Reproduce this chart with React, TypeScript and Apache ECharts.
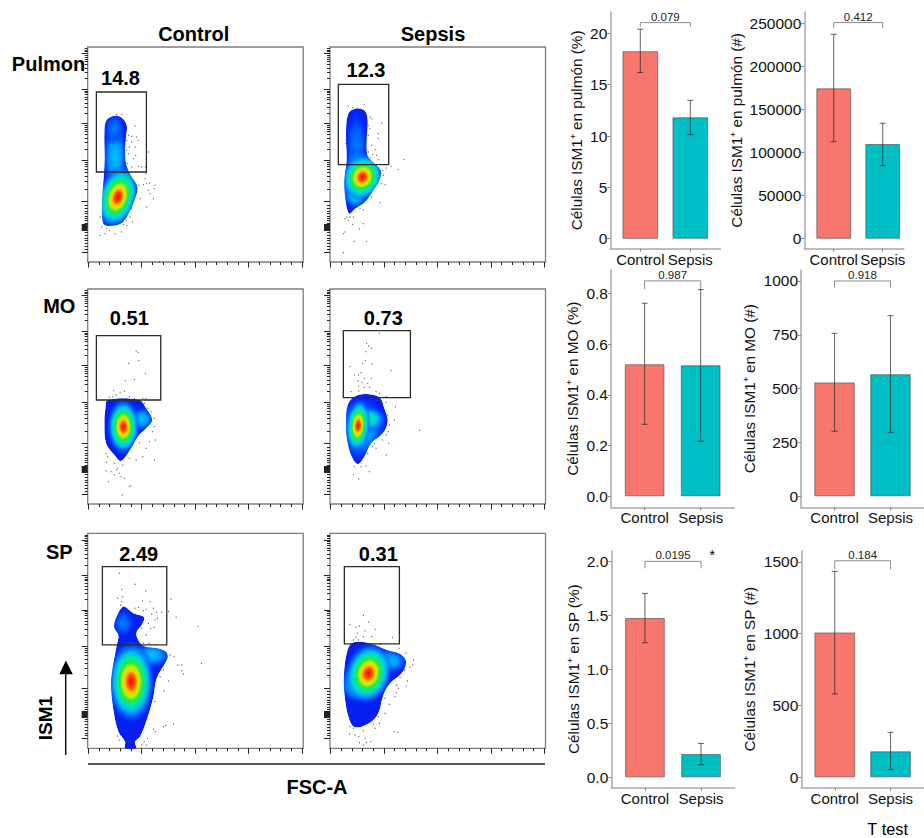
import React, { useEffect, useRef } from "react";
import * as echarts from "echarts";

const FONT = "Liberation Sans";

// ---------- Flow cytometry panels: values on an arbitrary linear channel scale ----------
const fscMajorTicks = [0, 160, 320, 480, 640];
const fscMinorTicks = [32, 64, 96, 128, 192, 224, 256, 288, 352, 384, 416, 448, 512, 544, 576, 608];
const ismMajorTicks = [625, 518, 415, 306, 181, 112, 109, 106, 103, 100, 97, 94, 30];
const ismMinorTicks = [
  640, 636, 631, 620, 614, 609, 601, 593, 582, 569, 550, 513, 508, 503, 495, 487, 477, 464, 446,
  410, 404, 399, 391, 382, 371, 358, 339, 300, 293, 287, 278, 268, 256, 241, 218,
  171, 162, 153, 145, 138, 131, 124, 117, 88, 80, 72, 64, 55, 46, 38,
];

const outlinePulmonControl = [[75,438],[100,433],[115,410],[113,375],[110,335],[113,295],[127,260],[147,225],[140,190],[120,145],[100,117],[65,108],[45,115],[41,165],[45,245],[49,305],[48,385],[53,423]];
const outlinePulmonSepsis = [[78,461],[103,453],[111,425],[108,365],[110,320],[123,303],[150,275],[148,250],[128,215],[103,180],[73,160],[56,145],[46,175],[41,245],[48,305],[46,385],[53,445]];
const outlineMoControl = [[58,312],[153,312],[173,287],[191,252],[173,227],[148,202],[128,167],[98,129],[78,147],[53,182],[48,242],[51,287]];
const outlineMoSepsis = [[71,322],[106,330],[146,320],[161,287],[171,247],[156,212],[121,182],[101,142],[81,120],[61,147],[48,202],[46,247],[51,297]];
const outlineSpControl = [[105,425],[135,405],[167,393],[160,370],[145,350],[147,330],[165,307],[205,300],[232,290],[238,275],[230,255],[205,210],[195,155],[175,85],[155,35],[140,20],[143,0],[110,0],[110,20],[90,50],[75,115],[68,195],[75,255],[85,310],[90,340],[77,365],[87,400]];
const outlineSpSepsis = [[63,315],[98,319],[133,310],[168,295],[208,283],[226,260],[213,225],[178,195],[158,160],[143,105],[118,77],[73,63],[53,95],[41,165],[40,225],[48,285]];

// density peaks: x, y, radiusX, radiusY, tilt in degrees, palette
const peaksPulmonControl = [[80,315,42,110,0,"sky"],[78,400,34,50,0,"blue"],[88,195,62,100,18,"hot"]];
const peaksPulmonSepsis = [[78,345,38,115,0,"blue"],[80,290,42,55,0,"sky"],[75,215,42,60,0,"warm"],[95,255,65,75,25,"hot"]];
const peaksMoControl = [[160,255,42,38,0,"sky"],[105,232,50,85,0,"hot"]];
const peaksMoSepsis = [[90,225,80,100,0,"sky"],[108,255,62,40,0,"warm"],[82,235,38,82,5,"hot"]];
const peaksSpControl = [[105,375,34,44,0,"blue"],[190,280,62,40,0,"sky"],[128,200,72,125,0,"hot"]];
const peaksSpSepsis = [[175,262,62,40,0,"sky"],[75,195,46,58,0,"warm"],[113,225,72,95,15,"hot"]];

const dotsPulmonControl = [[140,408],[120,380],[130,377],[145,375],[115,365],[130,360],[150,365],[123,345],[140,345],[115,335],[180,330],[120,325],[142,320],[135,310],[117,295],[130,285],[150,287],[160,285],[172,285],[172,265],[152,230],[165,232],[175,235],[183,237],[200,230],[197,220],[170,250],[180,215],[185,205],[195,190],[155,190],[175,165],[130,160],[125,135],[115,125],[133,120],[115,110],[105,113],[85,443],[100,443],[35,135],[40,105],[55,100],[35,80],[50,85],[80,85],[100,90],[63,95],[213,0]];
const dotsPulmonSepsis = [[53,467],[66,463],[101,473],[118,435],[123,430],[153,417],[113,410],[118,400],[143,385],[113,380],[143,370],[123,350],[133,337],[46,355],[113,330],[126,323],[138,320],[118,313],[143,307],[220,308],[181,287],[166,282],[202,278],[156,275],[158,260],[153,235],[163,232],[123,195],[148,178],[98,157],[88,160],[78,165],[68,135],[58,135],[43,130],[53,125],[98,115],[86,99],[66,113],[43,90],[38,85],[71,62],[108,62],[38,28],[48,135]];
const dotsMoControl = [[143,459],[150,455],[151,430],[121,422],[171,392],[111,370],[138,374],[76,340],[108,339],[95,334],[83,327],[73,322],[63,320],[123,322],[138,317],[163,317],[173,317],[168,302],[178,287],[188,277],[198,257],[198,232],[193,217],[201,192],[183,187],[153,184],[173,167],[163,142],[198,132],[143,132],[123,137],[53,152],[58,142],[78,122],[103,117],[88,107],[68,97],[53,99],[93,92],[78,87],[98,82],[108,77],[61,67],[123,52],[128,55],[101,27],[55,125],[85,102]];
const dotsMoSepsis = [[146,512],[108,482],[114,474],[123,467],[106,457],[104,430],[96,422],[124,420],[58,412],[181,400],[91,394],[84,387],[71,387],[101,377],[121,377],[82,369],[111,362],[94,364],[84,354],[101,350],[116,350],[84,339],[61,337],[136,337],[146,332],[166,322],[171,320],[166,305],[194,292],[171,267],[191,252],[176,237],[173,217],[166,207],[174,182],[156,192],[136,167],[126,172],[166,147],[111,152],[71,112],[91,112],[106,114],[116,97],[68,89],[84,75],[266,221],[131,182]];
const dotsSpControl = [[93,525],[140,492],[100,477],[172,472],[88,450],[103,455],[248,448],[100,440],[162,442],[185,440],[97,430],[140,420],[150,423],[173,417],[195,420],[240,410],[165,413],[205,408],[220,408],[190,403],[235,397],[263,393],[207,390],[200,385],[165,385],[180,375],[197,363],[160,360],[187,360],[329,365],[173,340],[182,315],[165,315],[245,280],[257,275],[268,250],[280,250],[339,255],[280,233],[285,223],[240,202],[225,235],[215,215],[227,172],[200,140],[255,73],[232,68],[225,65],[195,57],[200,50],[177,30],[167,20],[175,10],[160,10],[87,37],[92,25]];
const dotsSpSepsis = [[98,399],[114,379],[58,371],[86,367],[76,363],[133,357],[103,352],[80,345],[76,333],[98,335],[123,335],[185,333],[68,325],[83,325],[133,313],[148,313],[205,300],[226,285],[248,265],[246,250],[238,243],[221,235],[208,213],[230,202],[198,190],[226,187],[203,180],[196,167],[193,155],[163,150],[176,132],[163,105],[143,95],[146,75],[133,60],[58,65],[68,60],[56,42],[73,40],[83,35],[98,53],[103,30],[86,17],[98,10],[120,20],[108,17],[190,50],[201,48],[128,73]];

// gate: x0, y0, x1, y1
const gatePulmonControl = [24, 270, 174, 510];
const gatePulmonSepsis = [23, 292, 174, 533];
const gateMoControl = [24, 312, 217, 505];
const gateMoSepsis = [38, 319, 239, 520];
const gateSpControl = [42, 310, 235, 545];
const gateSpSepsis = [41, 313, 206, 545];

// ---------- Bar panels ----------
const groups = ["Control", "Sepsis"];
const yTitles = [
  "Células ISM1⁺ en pulmón (%)", "Células ISM1⁺ en pulmón (#)",
  "Células ISM1⁺ en MO (%)", "Células ISM1⁺ en MO (#)",
  "Células ISM1⁺ en SP (%)", "Células ISM1⁺ en SP (#)",
];
const yTickLabels = [
  ["0", "5", "10", "15", "20"], ["0", "50000", "100000", "150000", "200000", "250000"],
  ["0.0", "0.2", "0.4", "0.6", "0.8"], ["0", "250", "500", "750", "1000"],
  ["0.0", "0.5", "1.0", "1.5", "2.0"], ["0", "500", "1000", "1500"],
];
const means = [[18.25, 11.82], [174500, 109900], [0.521, 0.517], [529, 567], [1.478, 0.216], [1008, 181]];
const errLow = [[16.17, 10.13], [112600, 84750], [0.284, 0.217], [302, 297], [1.249, 0.117], [580, 53]];
const errHigh = [[20.4, 13.47], [237200, 133900], [0.762, 0.816], [757, 839], [1.706, 0.315], [1433, 313]];
const pValues = ["0.079", "0.412", "0.987", "0.918", "0.0195", "0.184"];
const bracketTop = [21.04, 250800, 0.85, 1000, 2.003, 1507];
const bracketTip = [20.65, 244200, 0.818, 969, 1.938, 1447];
const yMin = [-0.97, -11600, -0.0434, -51, -0.0958, -72];
const yMax = [22.07, 263100, 0.893, 1051, 2.102, 1577];
const xMax = [2.6, 2.43, 2.6, 2.6, 2.6, 2.6];

const barColors = ["#F8766D", "#00BFC4"];

const PALETTES: Record<string, [number, string][]> = {
  hot: [[0, "#ff0000"], [0.16, "#ff5200"], [0.26, "#ffc800"], [0.36, "#c0f000"], [0.46, "#28e848"], [0.58, "#00e8a8"], [0.7, "rgba(0,196,244,0.95)"], [0.84, "rgba(0,120,255,0.7)"], [1, "rgba(0,60,255,0)"]],
  warm: [[0, "#30e840"], [0.25, "#00e8a8"], [0.5, "#00c4f4"], [0.75, "rgba(0,120,255,0.7)"], [1, "rgba(0,60,255,0)"]],
  sky: [[0, "#00c8ff"], [0.45, "#0094ff"], [0.75, "rgba(0,90,255,0.6)"], [1, "rgba(0,50,255,0)"]],
  blue: [[0, "#0080ff"], [0.5, "#0058ff"], [1, "rgba(0,40,255,0)"]],
};

const flowPanels = [
  { left: 87.7, top: 47, outline: outlinePulmonControl, peaks: peaksPulmonControl, dots: dotsPulmonControl, gate: gatePulmonControl },
  { left: 330, top: 47, outline: outlinePulmonSepsis, peaks: peaksPulmonSepsis, dots: dotsPulmonSepsis, gate: gatePulmonSepsis },
  { left: 87.7, top: 289, outline: outlineMoControl, peaks: peaksMoControl, dots: dotsMoControl, gate: gateMoControl },
  { left: 330, top: 289, outline: outlineMoSepsis, peaks: peaksMoSepsis, dots: dotsMoSepsis, gate: gateMoSepsis },
  { left: 87.7, top: 533.3, outline: outlineSpControl, peaks: peaksSpControl, dots: dotsSpControl, gate: gateSpControl },
  { left: 330, top: 533.3, outline: outlineSpSepsis, peaks: peaksSpSepsis, dots: dotsSpSepsis, gate: gateSpSepsis },
];

const barLayout = [
  { left: 610.3, top: 12, width: 110, height: 236.7, barWidth: 35.7, nameGap: 26 },
  { left: 804.3, top: 12, width: 99.5, height: 236.7, barWidth: 34.7, nameGap: 60 },
  { left: 611, top: 270, width: 123.3, height: 237.3, barWidth: 39.7, nameGap: 31 },
  { left: 801, top: 270, width: 128, height: 237.3, barWidth: 40.5, nameGap: 44 },
  { left: 611.3, top: 550.7, width: 123.4, height: 237, barWidth: 39.7, nameGap: 30 },
  { left: 801.3, top: 550.7, width: 128, height: 237, barWidth: 40.7, nameGap: 44 },
];

function text(t: string, x: number, y: number, size: number, bold = true, rotation = 0) {
  return {
    type: "text", x, y, rotation, silent: true,
    style: {
      text: t, fill: "#000", align: "center", verticalAlign: "middle",
      font: `${bold ? "bold " : ""}${size}px "${FONT}"`,
    },
  };
}

function buildOption() {
  const grid: any[] = [];
  const xAxis: any[] = [];
  const yAxis: any[] = [];
  const series: any[] = [];

  flowPanels.forEach((p) => {
    const g = grid.length;
    grid.push({
      left: p.left, top: p.top, width: 215.5, height: 215, show: true,
      borderColor: "#7d7d7d", borderWidth: 1.3, backgroundColor: "#fff",
    });
    const xi = xAxis.length;
    const yi = yAxis.length;
    const tickX = (vals: number[], length: number) => ({
      type: "value", gridIndex: g, position: "bottom", min: -2, max: 644, splitLine: { show: false },
      axisLine: { show: false, onZero: false }, axisLabel: { show: false },
      axisTick: { show: true, customValues: vals, length, lineStyle: { color: "#222", width: 1 } },
    });
    const tickY = (vals: number[], length: number) => ({
      type: "value", gridIndex: g, position: "left", min: 0, max: 645, splitLine: { show: false },
      axisLine: { show: false, onZero: false }, axisLabel: { show: false },
      axisTick: { show: true, customValues: vals, length, lineStyle: { color: "#222", width: 1 } },
    });
    xAxis.push(tickX(fscMajorTicks, 5.5), tickX(fscMinorTicks, 3));
    yAxis.push(tickY(ismMajorTicks, 6), tickY(ismMinorTicks, 3));

    series.push({
      type: "custom", xAxisIndex: xi, yAxisIndex: yi, silent: true, clip: false, z: 2,
      data: [[0, 0]],
      renderItem: (_: any, api: any) => {
        const points = p.outline.map((q) => api.coord(q));
        return {
          type: "group",
          clipPath: { type: "polygon", shape: { points, smooth: 0.35 } },
          children: [
            { type: "polygon", shape: { points, smooth: 0.35 }, style: { fill: "#0620f0" } },
            ...p.peaks.map((k: any) => {
              const c = api.coord([k[0], k[1]]);
              const s = api.size([k[2], k[3]]);
              const stops = PALETTES[k[5]].map(([offset, color]) => ({ offset, color }));
              return {
                type: "ellipse", x: c[0], y: c[1], rotation: (-k[4] * Math.PI) / 180,
                shape: { cx: 0, cy: 0, rx: s[0], ry: s[1] },
                style: { fill: new echarts.graphic.RadialGradient(0.5, 0.5, 0.5, stops) },
              };
            }),
          ],
        };
      },
    });
    series.push({
      type: "scatter", xAxisIndex: xi, yAxisIndex: yi, silent: true, z: 3,
      symbolSize: 1.2, itemStyle: { color: "#222", opacity: 0.75 }, data: p.dots,
    });
    series.push({
      type: "custom", xAxisIndex: xi, yAxisIndex: yi, silent: true, clip: false, z: 4,
      data: [p.gate], encode: { x: [0, 2], y: [1, 3] },
      renderItem: (_: any, api: any) => {
        const a = api.coord([api.value(0), api.value(3)]);
        const b = api.coord([api.value(2), api.value(1)]);
        return {
          type: "rect",
          shape: { x: a[0], y: a[1], width: b[0] - a[0], height: b[1] - a[1] },
          style: { fill: "none", stroke: "#2b2b2b", lineWidth: 1.3 },
        };
      },
    });
  });

  barLayout.forEach((b, i) => {
    const g = grid.length;
    grid.push({ left: b.left, top: b.top, width: b.width, height: b.height });
    const xi = xAxis.length;
    const yi = yAxis.length;
    const axisLine = { show: true, onZero: false, lineStyle: { color: "#a9a9a9", width: 1.5 } };
    xAxis.push({
      type: "value", gridIndex: g, min: 0.4, max: xMax[i], position: "bottom", splitLine: { show: false },
      axisLine,
      axisTick: { show: true, customValues: [1, 2], length: 3, lineStyle: { color: "#888" } },
      axisLabel: {
        customValues: [1, 2], margin: 3, fontFamily: FONT, fontSize: 15, color: "#111",
        hideOverlap: false, showMinLabel: true, showMaxLabel: true,
        formatter: (v: number) => groups[v - 1],
      },
    });
    const ticks = yTickLabels[i].map(Number);
    yAxis.push({
      type: "value", gridIndex: g, min: yMin[i], max: yMax[i], position: "left", splitLine: { show: false },
      axisLine,
      axisTick: { show: true, customValues: ticks, length: 3, lineStyle: { color: "#888" } },
      axisLabel: {
        customValues: ticks, margin: 3, fontFamily: FONT, fontSize: 15.5, color: "#111",
        showMinLabel: true, showMaxLabel: true,
        formatter: (v: number) => yTickLabels[i][ticks.indexOf(v)],
      },
      name: yTitles[i], nameLocation: "middle", nameGap: b.nameGap, nameRotate: 90,
      nameTextStyle: { fontFamily: FONT, fontSize: 15.3, color: "#111" },
    });
    series.push({
      type: "bar", xAxisIndex: xi, yAxisIndex: yi, barWidth: b.barWidth, silent: true, z: 2,
      data: means[i].map((m, k) => ({
        value: [k + 1, m],
        itemStyle: { color: barColors[k], borderColor: "rgba(70,70,70,0.6)", borderWidth: 1 },
      })),
    });
    series.push({
      type: "custom", xAxisIndex: xi, yAxisIndex: yi, silent: true, clip: false, z: 3,
      data: means[i].map((_, k) => [k + 1, errLow[i][k], errHigh[i][k]]),
      encode: { x: 0, y: [1, 2] },
      renderItem: (_: any, api: any) => {
        const lo = api.coord([api.value(0), api.value(1)]);
        const hi = api.coord([api.value(0), api.value(2)]);
        const ls = { stroke: "rgba(40,40,40,0.72)", lineWidth: 1 };
        return {
          type: "group",
          children: [
            { type: "line", shape: { x1: lo[0], y1: lo[1], x2: hi[0], y2: hi[1] }, style: ls },
            { type: "line", shape: { x1: lo[0] - 3, y1: lo[1], x2: lo[0] + 3, y2: lo[1] }, style: ls },
            { type: "line", shape: { x1: hi[0] - 3, y1: hi[1], x2: hi[0] + 3, y2: hi[1] }, style: ls },
          ],
        };
      },
    });
    series.push({
      type: "custom", xAxisIndex: xi, yAxisIndex: yi, silent: true, clip: false, z: 3,
      data: [[1, 2, bracketTop[i], bracketTip[i]]], encode: { x: [0, 1], y: [2, 3] },
      renderItem: (_: any, api: any) => {
        const a = api.coord([api.value(0), api.value(2)]);
        const c = api.coord([api.value(1), api.value(2)]);
        const tip = api.coord([api.value(0), api.value(3)]);
        return {
          type: "group",
          children: [
            {
              type: "polyline",
              shape: { points: [[a[0], tip[1]], a, c, [c[0], tip[1]]] },
              style: { fill: "none", stroke: "#8c8c8c", lineWidth: 1 },
            },
            {
              type: "text",
              style: {
                text: pValues[i], x: (a[0] + c[0]) / 2, y: a[1] - 6, align: "center", verticalAlign: "middle",
                fill: "#222", font: `11.5px "${FONT}"`,
              },
            },
          ],
        };
      },
    });
  });

  const graphic = [
    text("Control", 193.7, 34, 20),
    text("Sepsis", 433, 34, 20),
    text("Pulmon", 48.5, 63.7, 20),
    text("14.8", 120.5, 78, 20),
    text("12.3", 366, 69.7, 20),
    text("MO", 59.3, 306, 20),
    text("0.51", 129.3, 318.3, 20),
    text("0.73", 383.3, 317.7, 20),
    text("SP", 59.3, 551.7, 20),
    text("2.49", 138.7, 554.3, 20),
    text("0.31", 378.3, 554, 20),
    text("ISM1", 45, 718, 19, true, Math.PI / 2),
    text("FSC-A", 317, 786.7, 20),
    text("*", 712.3, 555, 14, false),
    text("T test", 887.7, 829, 16.4, false),
    {
      type: "line", silent: true, shape: { x1: 88, y1: 764, x2: 545, y2: 764 },
      style: { stroke: "#222", lineWidth: 1.5 },
    },
    {
      type: "line", silent: true, shape: { x1: 65.7, y1: 755, x2: 65.7, y2: 672 },
      style: { stroke: "#111", lineWidth: 1.5 },
    },
    {
      type: "polygon", silent: true, shape: { points: [[65.9, 660.5], [59.3, 674.3], [72.8, 674.3]] },
      style: { fill: "#000" },
    },
  ];

  return {
    animation: false,
    backgroundColor: "#fff",
    textStyle: { fontFamily: FONT },
    grid, xAxis, yAxis, series, graphic,
  };
}

export default function App() {
  const ref = useRef<HTMLDivElement>(null);
  useEffect(() => {
    const chart = echarts.init(ref.current!, undefined, { renderer: "svg" });
    chart.setOption(buildOption() as any);
    return () => chart.dispose();
  }, []);
  return <div ref={ref} style={{ position: "absolute", left: 0, top: 0, width: 924, height: 838 }} />;
}
